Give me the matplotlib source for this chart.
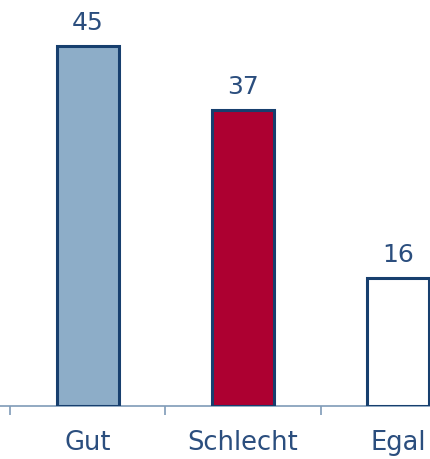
import matplotlib
matplotlib.use("Agg")
import matplotlib.pyplot as plt

categories = ["Gut", "Schlecht", "Egal"]
values = [45, 37, 16]
colors = ["#8dadc8", "#ad0031", "#ffffff"]

fig = plt.figure(figsize=(4.31, 4.59), dpi=100)
ax = fig.add_axes([0, 53/459, 1, 406/459])
x = list(range(len(categories)))
ax.bar(x, values, width=0.4, color=colors, edgecolor="#173f6e", linewidth=2.2, zorder=3)
for xi, v in zip(x, values):
    ax.annotate(str(v), (xi, v), xytext=(0, 8), textcoords="offset points",
                ha="center", va="bottom", fontsize=18, color="#2b4e7e",
                family="DejaVu Sans")
ax.set_xlim(-0.5 - 10/156, (433 - 88)/156)
ax.set_ylim(0, 406/8)
for s in ["top", "right", "left"]:
    ax.spines[s].set_visible(False)
ax.spines["bottom"].set_color("#7f9bb7")
ax.spines["bottom"].set_linewidth(1.2)
ax.set_yticks([])
ax.set_xticks(x)
ax.set_xticklabels(categories, fontsize=18.5, color="#2b4e7e", family="DejaVu Sans")
ax.tick_params(axis="x", which="major", length=0, pad=17)
ax.set_xticks([-0.5, 0.5, 1.5], minor=True)
ax.tick_params(axis="x", which="minor", length=6.5, width=1.2, color="#7f9bb7", direction="out")
fig.savefig("out.png", dpi=100)
